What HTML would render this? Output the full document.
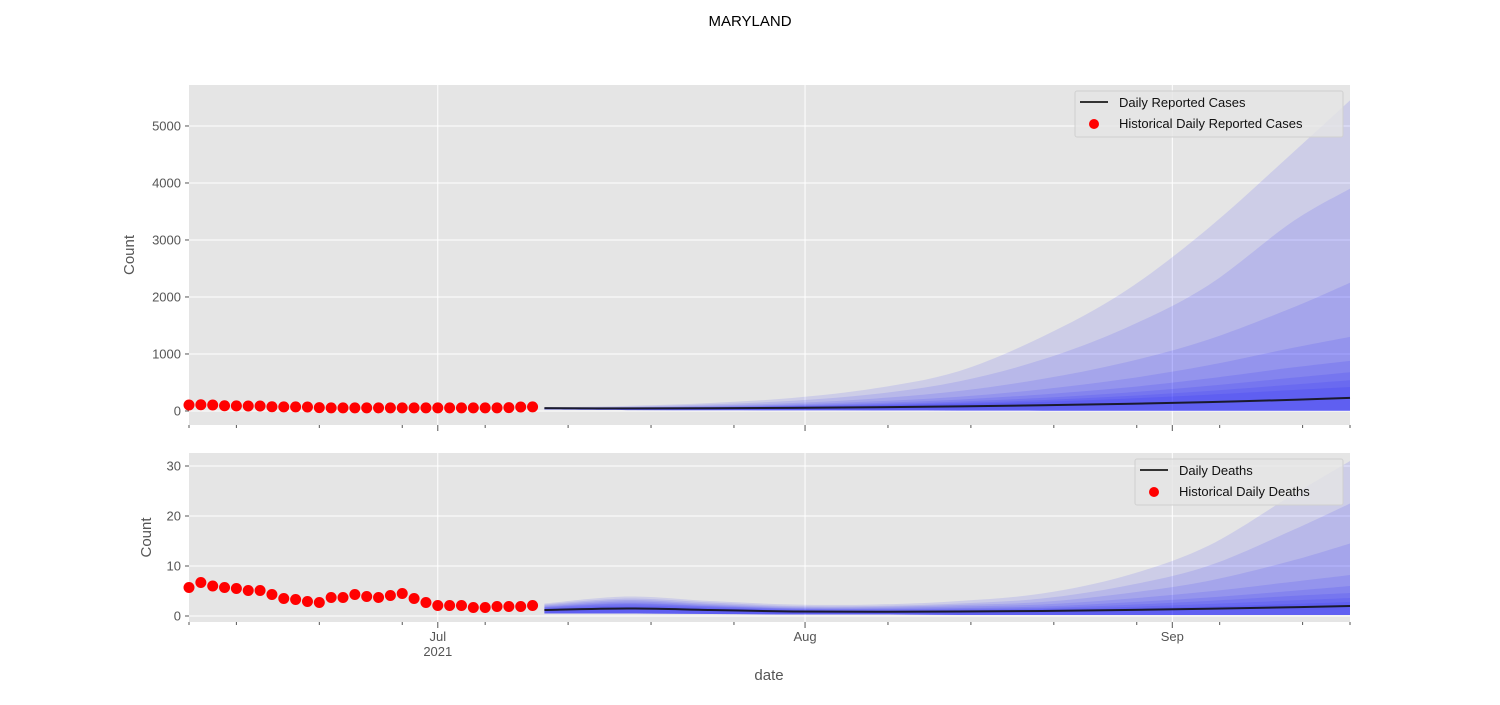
<!DOCTYPE html>
<html><head><meta charset="utf-8"><style>
body{margin:0;background:#fff;}
svg text{font-family:"Liberation Sans","DejaVu Sans",sans-serif;}
</style></head><body>
<svg id="chart" width="1500" height="700" xmlns="http://www.w3.org/2000/svg">
<text x="750" y="26" text-anchor="middle" font-size="15" fill="#000">MARYLAND</text>
<g id="top"></g>
<g id="bot"></g>
<text x="769" y="680" text-anchor="middle" font-size="15" fill="#555">date</text>
</svg>
<script>
// ---- data ----
const histCases = [105,110,105,92,90,88,88,75,72,72,70,58,55,55,55,55,55,55,55,55,55,55,55,55,55,55,55,58,70,72];
const histDeaths = [5.7,6.7,6.0,5.7,5.5,5.1,5.1,4.3,3.5,3.3,2.9,2.7,3.7,3.7,4.3,3.9,3.7,4.1,4.5,3.5,2.7,2.1,2.1,2.1,1.7,1.7,1.9,1.9,1.9,2.1];
const histStartDay = 0; // June 10 2021
const fcDays = [30,37,44,51,58,65,72,79,86,93,98];
const caseMedian = [50,45,48,55,65,80,100,125,155,195,230];
const caseUpper1 = [60,90,140,230,400,700,1300,2100,3200,4500,5450];
const caseUpper2 = [55,75,115,180,300,520,900,1450,2200,3300,3900];
const caseUpper3 = [52,65,95,140,220,350,560,850,1250,1800,2250];
const caseUpper4 = [51,60,80,115,170,250,380,560,800,1100,1300];
const caseUpper5 = [50,56,72,100,140,200,290,410,570,760,880];
const caseUpper6 = [50,53,66,88,120,165,230,320,440,580,680];
const caseUpper7 = [50,51,62,80,105,140,190,260,350,460,540];
const caseUpper8 = [50,50,59,74,95,122,160,215,285,365,420];
const caseLower = [25,15,12,10,8,6,5,5,4,4,3];
const deathMedian = [1.2,1.5,1.2,0.9,0.85,0.9,1.0,1.2,1.45,1.75,2.0];
const deathUpper1 = [2.5,3.9,3.0,2.3,2.3,3.0,4.5,8.0,14,24,31];
const deathUpper2 = [2.3,3.5,2.7,2.0,2.0,2.5,3.5,6.0,10,17,22.5];
const deathUpper3 = [2.1,3.2,2.4,1.8,1.8,2.2,2.8,4.5,7,11,14.5];
const deathUpper4 = [1.9,2.9,2.2,1.6,1.6,1.9,2.3,3.4,4.9,6.8,8.2];
const deathUpper5 = [1.8,2.6,2.0,1.5,1.4,1.6,1.9,2.7,3.7,5,6];
const deathUpper6 = [1.7,2.4,1.9,1.4,1.3,1.4,1.6,2.2,3,4,4.6];
const deathUpper7 = [1.5,2.1,1.7,1.2,1.1,1.2,1.4,1.8,2.4,3.1,3.6];
const deathUpper8 = [1.4,1.8,1.5,1.1,1.0,1.1,1.2,1.5,1.9,2.4,2.8];
const deathLower = [0.5,0.5,0.4,0.3,0.3,0.2,0.2,0.2,0.2,0.2,0.2];
const caseTicks = [0,1000,2000,3000,4000,5000];
const deathTicks = [0,10,20,30];
const majorTickDays = [21,52,83];
const majorTickLabels = ["Jul\n2021","Aug","Sep"];
const minorTickDays = [0,4,11,18,25,32,39,46,59,66,73,80,87,94,98];

const NS="http://www.w3.org/2000/svg";
const X0=189,X1=1350;
const xs=d=>X0+(d/98)*(X1-X0);
function mk(tag,attrs,parent){const e=document.createElementNS(NS,tag);for(const k in attrs)e.setAttribute(k,attrs[k]);parent.appendChild(e);return e;}
function spline(pts){let d=`M${pts[0][0]},${pts[0][1]}`;for(let i=0;i<pts.length-1;i++){const p0=pts[Math.max(0,i-1)],p1=pts[i],p2=pts[i+1],p3=pts[Math.min(pts.length-1,i+2)];
const c1=[p1[0]+(p2[0]-p0[0])/6,p1[1]+(p2[1]-p0[1])/6],c2=[p2[0]-(p3[0]-p1[0])/6,p2[1]-(p3[1]-p1[1])/6];d+=`C${c1[0]},${c1[1]} ${c2[0]},${c2[1]} ${p2[0]},${p2[1]}`;}return d;}
function panel(g,top,bot,vmin,vmax,ticks,hist,median,uppers,lower,ylabelX,legend,showLabels){
  const ys=v=>bot-(v-vmin)/(vmax-vmin)*(bot-top);
  const bg=mk('rect',{x:X0,y:top,width:X1-X0,height:bot-top,fill:'#e5e5e5'},g);
  
  ticks.forEach(t=>{const l=mk('line',{x1:X0,x2:X1,y1:ys(t),y2:ys(t),stroke:'#fff','stroke-width':1},g);
    
    mk('line',{x1:X0-4,x2:X0,y1:ys(t),y2:ys(t),stroke:'#555'},g);
    const tx=mk('text',{x:X0-8,y:ys(t)+4.5,'text-anchor':'end','font-size':13,fill:'#555'},g);tx.textContent=t;
    });
  majorTickDays.forEach(d=>{const l=mk('line',{x1:xs(d),x2:xs(d),y1:top,y2:bot,stroke:'#fff'},g);
    
    mk('line',{x1:xs(d),x2:xs(d),y1:bot,y2:bot+6,stroke:'#555'},g);});
  minorTickDays.forEach(d=>mk('line',{x1:xs(d),x2:xs(d),y1:bot,y2:bot+3,stroke:'#555'},g));
  if(showLabels){majorTickDays.forEach((d,i)=>{majorTickLabels[i].split('\n').forEach((s,j)=>{const tx=mk('text',{x:xs(d),y:bot+19+j*15,'text-anchor':'middle','font-size':13,fill:'#555'},g);tx.textContent=s;
    });});}
  uppers.forEach(u=>{const up=fcDays.map((d,i)=>[xs(d),ys(u[i])]);const lo=fcDays.map((d,i)=>[xs(d),ys(lower[i])]).reverse();
    let p=spline(up)+'L'+lo[0][0]+','+lo[0][1]+spline(lo).slice(1).replace(/^[^C]*/,'')+'Z';
    const e=mk('path',{d:p,fill:'rgba(0,0,255,0.1)'},g);});
  const m=mk('path',{d:spline(fcDays.map((d,i)=>[xs(d),ys(median[i])])),fill:'none',stroke:'#1a1a2e','stroke-width':2},g);
  
  hist.forEach((v,i)=>{const c=mk('circle',{cx:xs(histStartDay+i),cy:ys(v),r:5.5,fill:'#ff0000'},g);
    });
  const yl=mk('text',{x:ylabelX,y:(top+bot)/2,'text-anchor':'middle','font-size':15,fill:'#555',transform:`rotate(-90 ${ylabelX} ${(top+bot)/2})`},g);yl.textContent='Count';
  
  const lg=mk('g',{},g);
  mk('rect',{x:legend.x,y:top+6,width:1343-legend.x,height:46,fill:'#e5e5e5',stroke:'#d0d0d0',rx:2,'fill-opacity':0.8},lg);
  mk('line',{x1:legend.x+5,x2:legend.x+33,y1:top+17,y2:top+17,stroke:'#333','stroke-width':2},lg);
  mk('circle',{cx:legend.x+19,cy:top+39,r:5,fill:'#ff0000'},lg);
  const t1=mk('text',{x:legend.x+44,y:top+22,'font-size':13,fill:'#111'},lg);t1.textContent=legend.a;
  
  const t2=mk('text',{x:legend.x+44,y:top+43,'font-size':13,fill:'#111'},lg);t2.textContent=legend.b;
  
}
panel(document.getElementById('top'),85,425,-246,5719,caseTicks,histCases,caseMedian,
  [caseUpper1,caseUpper2,caseUpper3,caseUpper4,caseUpper5,caseUpper6,caseUpper7,caseUpper8],caseLower,134,
  {x:1075,a:'Daily Reported Cases',b:'Historical Daily Reported Cases'},false);
panel(document.getElementById('bot'),453,622,-1.2,32.6,deathTicks,histDeaths,deathMedian,
  [deathUpper1,deathUpper2,deathUpper3,deathUpper4,deathUpper5,deathUpper6,deathUpper7,deathUpper8],deathLower,151,
  {x:1135,a:'Daily Deaths',b:'Historical Daily Deaths'},true);
</script>
</body></html>
